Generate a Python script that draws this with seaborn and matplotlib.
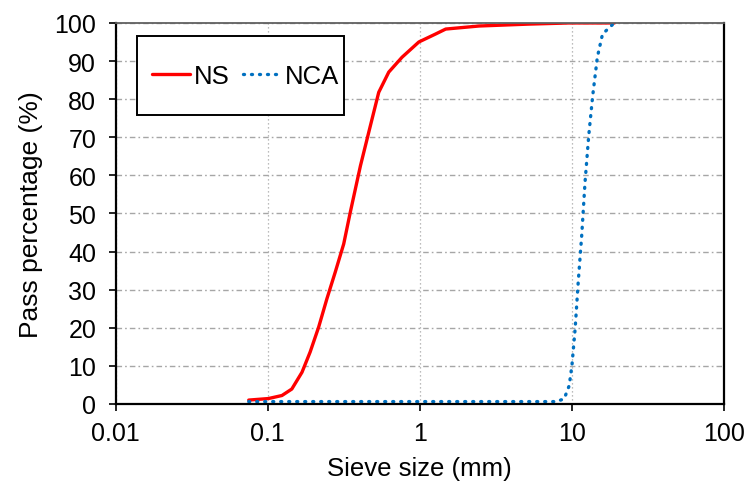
import matplotlib
matplotlib.use("Agg")
import matplotlib.pyplot as plt
from matplotlib.patches import Rectangle
import seaborn as sns
import pandas as pd

sns.set_theme(style="white")
plt.rcParams['font.family'] = ['Liberation Sans', 'DejaVu Sans']
plt.rcParams.update({'text.color': 'black', 'axes.labelcolor': 'black',
                     'xtick.color': 'black', 'ytick.color': 'black'})

# grading curves
ns_size = [0.075, 0.101, 0.124, 0.144, 0.168, 0.19, 0.216, 0.245, 0.278, 0.316,
           0.349, 0.407, 0.473, 0.537, 0.625, 0.764, 0.985, 1.27, 1.48, 2.45,
           5.2, 9.6, 19.0]
ns_pass = [1.0, 1.4, 2.2, 3.9, 8.3, 13.6, 20.1, 27.6, 34.6, 42.0,
           50.3, 62.5, 73.0, 81.8, 87.1, 91.0, 95.0, 97.1, 98.4, 99.2,
           99.7, 100.0, 100.0]

nca_size = [0.075, 7.84, 8.89, 9.6, 10.0, 10.5, 11.0, 11.6,
            12.2, 12.9, 13.7, 14.7, 15.9, 19.0]
nca_pass = [0.6, 0.6, 1.3, 4.8, 10.0, 19.7, 31.9, 44.2,
            58.2, 70.4, 80.9, 91.0, 97.1, 100.0]

x_ticks = [0.01, 0.1, 1, 10, 100]
x_labels = ['0.01', '0.1', '1', '10', '100']

df_ns = pd.DataFrame({'size': ns_size, 'pass': ns_pass})
df_nca = pd.DataFrame({'size': nca_size, 'pass': nca_pass})

fig = plt.figure(figsize=(7.46, 4.89), dpi=100)
ax = fig.add_axes([0.155, 0.172, 0.8155, 0.779])

sns.lineplot(data=df_ns, x='size', y='pass', ax=ax, color='#FF0000', lw=2.4,
             label='NS', sort=False, estimator=None)
sns.lineplot(data=df_nca, x='size', y='pass', ax=ax, color='#0070C0', lw=2.4,
             linestyle=(0, (0.3, 2.1)), dash_capstyle='round',
             label='NCA', sort=False, estimator=None)

ax.set_xscale('log')
ax.set_xlim(0.01, 100)
ax.set_ylim(0, 100)
ax.set_xticks(x_ticks)
ax.set_xticklabels(x_labels)
ax.set_yticks(range(0, 101, 10))
ax.minorticks_off()
ax.tick_params(axis='both', labelsize=18, direction='out', length=5, width=1.2,
               color='black', bottom=True, left=True)
ax.tick_params(axis='x', pad=7)
ax.tick_params(axis='y', pad=9)

ax.yaxis.grid(True, color='#A6A6A6', linestyle=(0, (4, 2.2, 1.2, 2.2)), lw=1.0)
ax.xaxis.grid(True, color='#A6A6A6', linestyle=(0, (1, 2.2)), lw=0.9)
ax.set_axisbelow(True)

for side in ['left', 'bottom', 'right']:
    ax.spines[side].set_color('black')
    ax.spines[side].set_linewidth(1.6)
ax.spines['top'].set_color('#606060')
ax.spines['top'].set_linewidth(1.3)

ax.set_xlabel('Sieve size (mm)', fontsize=18.5, labelpad=8)
ax.set_ylabel('Pass percentage (%)', fontsize=19, labelpad=8)

# legend box drawn separately so the entries sit centred in a tall frame
ax.add_patch(Rectangle((0.0346, 0.7585), 0.341, 0.2075, transform=ax.transAxes,
                       facecolor='white', edgecolor='black', lw=1.4, zorder=4))
leg = ax.legend(loc='center left', ncol=2, fontsize=18.5, frameon=False,
                bbox_to_anchor=(0.0593, 0.861), borderpad=0, handlelength=1.5,
                handletextpad=0.15, columnspacing=0.5, borderaxespad=0)
leg.set_zorder(5)

fig.savefig('out.png', dpi=100)
